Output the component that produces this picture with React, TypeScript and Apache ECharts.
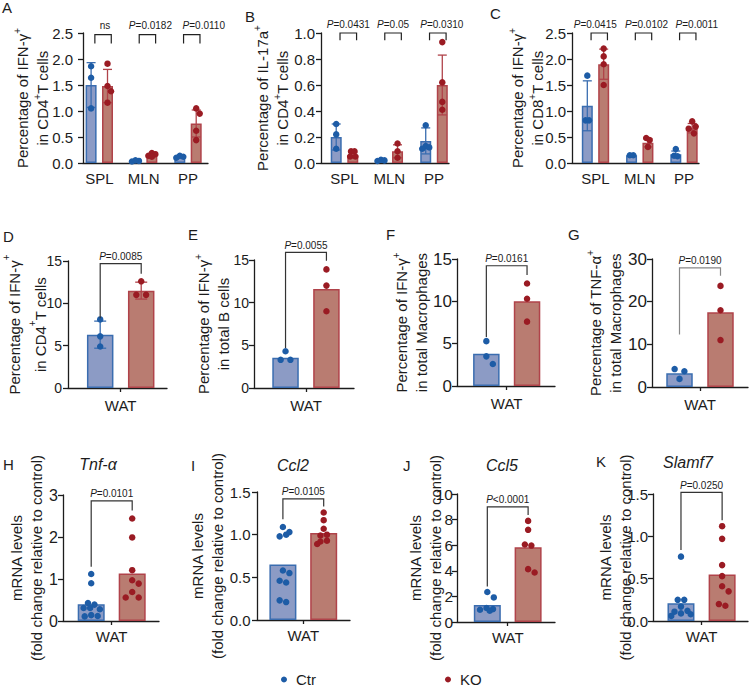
import React, { useEffect, useRef } from 'react';
import * as echarts from 'echarts';

const FONT = '"Liberation Sans", Arial, Helvetica, sans-serif';
const INK = '#1c1c1c';
const CTR_FILL = '#8c9bc5';
const CTR_LINE = '#3a6db0';
const CTR_DOT = '#1d5ca6';
const KO_FILL = '#b97c71';
const KO_LINE = '#b0434a';
const KO_DOT = '#9a1b23';

// ---------- Panel A : IFN-γ+ in CD4+ T cells ----------
const aCategories = ['SPL', 'MLN', 'PP'];
const aCtrMean = [1.5, 0.04, 0.12];
const aCtrSD = [0.43, 0.01, 0.02];
const aKoMean = [1.48, 0.15, 0.76];
const aKoSD = [0.32, 0.03, 0.26];
const aCtrDots = [[1.86, 1.64, 1.05], [0.03, 0.04, 0.05], [0.14, 0.12, 0.1]];
const aKoDots = [[1.91, 1.48, 1.38, 1.16], [0.19, 0.17, 0.14, 0.12], [1.05, 0.95, 0.62, 0.44]];
const aPLabels = ['ns', 'P=0.0182', 'P=0.0110'];
const aBracketTop = [2.47, 2.47, 2.47];
const aBracketFoot = [2.3, 2.3, 2.3];

// ---------- Panel B : IL-17a+ in CD4+ T cells ----------
const bCategories = ['SPL', 'MLN', 'PP'];
const bCtrMean = [0.2, 0.02, 0.17];
const bCtrSD = [0.1, 0.005, 0.1];
const bKoMean = [0.06, 0.09, 0.6];
const bKoSD = [0.02, 0.05, 0.23];
const bCtrDots = [[0.3, 0.22, 0.11], [0.025, 0.02, 0.015], [0.29, 0.13, 0.12, 0.11]];
const bKoDots = [[0.09, 0.09, 0.05, 0.05], [0.15, 0.09, 0.04], [0.93, 0.62, 0.47, 0.41]];
const bPLabels = ['P=0.0431', 'P=0.05', 'P=0.0310'];
const bBracketTop = [1.0, 1.0, 1.0];
const bBracketFoot = [0.945, 0.945, 0.945];

// ---------- Panel C : IFN-γ+ in CD8+ T cells ----------
const cCategories = ['SPL', 'MLN', 'PP'];
const cCtrMean = [1.1, 0.15, 0.17];
const cCtrSD = [0.48, 0.01, 0.06];
const cKoMean = [1.9, 0.39, 0.67];
const cKoSD = [0.29, 0.08, 0.09];
const cCtrDots = [[1.68, 0.82, 0.82], [0.15, 0.15], [0.27, 0.14, 0.13]];
const cKoDots = [[2.2, 2.05, 1.9, 1.5], [0.48, 0.44, 0.31], [0.8, 0.7, 0.66, 0.57]];
const cPLabels = ['P=0.0415', 'P=0.0102', 'P=0.0011'];
const cBracketTop = [2.5, 2.5, 2.5];
const cBracketFoot = [2.36, 2.36, 2.36];

// ---------- Row 2 : WAT ----------
const watCategories = ['WAT'];

const dCtrMean = [6.3];
const dCtrSD = [1.6];
const dKoMean = [11.5];
const dKoSD = [1.0];
const dCtrDots = [[8.1, 6.1, 4.9]];
const dKoDots = [[12.6, 11.0, 11.0]];
const dPLabels = ['P=0.0085'];
const dBracket = [14.7, 8.25, 13.5]; // top, left foot, right foot

const eCtrMean = [3.55];
const eKoMean = [11.6];
const eCtrDots = [[4.3, 3.3, 3.3]];
const eKoDots = [[13.9, 12.0, 9.0]];
const ePLabels = ['P=0.0055'];
const eBracket = [15.9, 4.7, 14.9];

const fCtrMean = [3.8];
const fKoMean = [10.0];
const fCtrDots = [[5.3, 3.5, 2.6]];
const fKoDots = [[12.1, 10.3, 7.6]];
const fPLabels = ['P=0.0161'];
const fBracket = [14.2, 5.8, 13.1];

const gCtrMean = [3.2];
const gKoMean = [17.5];
const gCtrDots = [[4.2, 3.7, 1.9]];
const gKoDots = [[23.7, 18.0, 11.0]];
const gPLabels = ['P=0.0190'];
const gBracket = [27.9, 12.3, 26.1];

// ---------- Row 3 : mRNA ----------
const hCtrMean = [0.4];
const hKoMean = [1.13];
const hCtrDots = [[1.12, 0.9, 0.43, 0.39, 0.31, 0.31, 0.28, 0.14, 0.12, 0.11]];
const hKoDots = [[2.44, 1.99, 1.21, 0.97, 0.89, 0.69, 0.56, 0.56]];
const hPLabels = ['P=0.0101'];
const hBracket = [2.86, 1.29, 2.63];

const iCtrMean = [0.65];
const iKoMean = [1.02];
const iCtrDots = [[1.09, 1.03, 1.0, 0.98, 0.58, 0.55, 0.46, 0.44, 0.23, 0.21]];
const iKoDots = [[1.26, 1.17, 1.07, 1.0, 0.99, 0.93, 0.92, 0.89]];
const iPLabels = ['P=0.0105'];
const iBracket = [1.42, 1.18, 1.33];

const jCtrMean = [1.32];
const jKoMean = [5.84];
const jCtrDots = [[2.34, 1.92, 1.09, 1.01, 0.96, 0.88]];
const jKoDots = [[7.9, 7.2, 6.05, 5.97, 4.13, 3.87]];
const jPLabels = ['P<0.0001'];
const jBracket = [9.0, 2.78, 8.36];

const kCtrMean = [0.21];
const kKoMean = [0.55];
const kCtrDots = [[0.76, 0.25, 0.25, 0.17, 0.12, 0.11, 0.09, 0.08, 0.06]];
const kKoDots = [[1.12, 0.97, 0.66, 0.53, 0.41, 0.35, 0.2, 0.18]];
const kPLabels = ['P=0.0250'];
const kBracket = [1.52, 0.84, 1.19];

const legendNames = ['Ctr', 'KO'];

type Panel = {
  letter: string;
  title?: string;
  cats: string[];
  ctrMean: number[];
  koMean: number[];
  ctrSD?: number[];
  koSD?: number[];
  ctrDots: number[][];
  koDots: number[][];
  pLabels: string[];
  brTop: number[];
  brLeft: number[];
  brRight: number[];
  yMax: number;
  yStep: number;
  decimals: number;
  yName: string;
};

type Layout = {
  left: number; top: number; width: number; height: number;
  xMin: number; xMax: number; barOff: number; barW: number; capW: number;
  brL: number; brR: number; nameGap: number; nameLH: number; textOff: number; textDx: number[];
  dot: number; minD: number; step: number; maxHalf: number;
  catFont: number; tickFont: number; tickMargin: number; labelMargin: number; catTick: boolean;
  letterX: number; letterY: number; titleX?: number; titleY?: number; brColor: string;
};

const nameCD4 = 'Percentage of IFN-γ{s|+}\nin CD4{s|+}T cells';
const nameMrna = 'mRNA levels\n(fold change relative to control)';

const row1 = {
  capW: 9, brL: -0.1, brR: 0.27, textOff: 9, dot: 6.5, minD: 5.85, step: 1.75, maxHalf: 3.5,
  catFont: 15, tickFont: 15, tickMargin: 6, labelMargin: 8, barOff: 0.185, barW: 11, catTick: false,
  brColor: '#222', nameLH: 20,
};
const row2 = {
  capW: 12, brL: -0.5, brR: 0.5, textOff: 7, textDx: [0], dot: 6.5, minD: 8.45, step: 3.25, maxHalf: 9.75,
  catFont: 15, tickFont: 14, tickMargin: 6, labelMargin: 10, barOff: 0.5, barW: 26.5, catTick: true,
  brColor: '#333', nameLH: 20,
};
const row3 = { ...row2, barW: 27, labelMargin: 8, minD: 6.5 };

const PANELS: [Panel, Layout][] = [
  [
    { letter: 'A', cats: aCategories, ctrMean: aCtrMean, koMean: aKoMean, ctrSD: aCtrSD, koSD: aKoSD, ctrDots: aCtrDots, koDots: aKoDots, pLabels: aPLabels, brTop: aBracketTop, brLeft: aBracketFoot, brRight: aBracketFoot, yMax: 2.5, yStep: 0.5, decimals: 1, yName: nameCD4 },
    { ...row1, left: 83, top: 33, width: 125, height: 130, xMin: -0.3675, xMax: 2.451, nameGap: 31, tickMargin: 10, textDx: [2, 3, 12], letterX: 2, letterY: 0 },
  ],
  [
    { letter: 'B', cats: bCategories, ctrMean: bCtrMean, koMean: bKoMean, ctrSD: bCtrSD, koSD: bKoSD, ctrDots: bCtrDots, koDots: bKoDots, pLabels: bPLabels, brTop: bBracketTop, brLeft: bBracketFoot, brRight: bBracketFoot, yMax: 1.0, yStep: 0.2, decimals: 1, yName: 'Percentage of IL-17a{s|+}\nin CD4{s|+}T cells' },
    { ...row1, left: 321, top: 33, width: 128, height: 130, xMin: -0.525, xMax: 2.335, nameGap: 29, textDx: [0, 0, 4], letterX: 245, letterY: 8.5 },
  ],
  [
    { letter: 'C', cats: cCategories, ctrMean: cCtrMean, koMean: cKoMean, ctrSD: cCtrSD, koSD: cKoSD, ctrDots: cCtrDots, koDots: cKoDots, pLabels: cPLabels, brTop: cBracketTop, brLeft: cBracketFoot, brRight: cBracketFoot, yMax: 2.5, yStep: 0.5, decimals: 1, yName: 'Percentage of IFN-γ{s|+}\nin CD8{s|+}T cells' },
    { ...row1, left: 572, top: 33, width: 127, height: 130, xMin: -0.531, xMax: 2.339, nameGap: 25, textDx: [-4, 3, 9], letterX: 490, letterY: 6 },
  ],
  [
    { letter: 'D', cats: watCategories, ctrMean: dCtrMean, koMean: dKoMean, ctrSD: dCtrSD, koSD: dKoSD, ctrDots: dCtrDots, koDots: dKoDots, pLabels: dPLabels, brTop: [dBracket[0]], brLeft: [dBracket[1]], brRight: [dBracket[2]], yMax: 15, yStep: 5, decimals: 0, yName: nameCD4 },
    { ...row2, left: 68, top: 261, width: 99, height: 127, xMin: -1.285, xMax: 1.129, nameGap: 15, nameLH: 26, letterX: 3, letterY: 228.5 },
  ],
  [
    { letter: 'E', cats: watCategories, ctrMean: eCtrMean, koMean: eKoMean, ctrDots: eCtrDots, koDots: eKoDots, pLabels: ePLabels, brTop: [eBracket[0]], brLeft: [eBracket[1]], brRight: [eBracket[2]], yMax: 15, yStep: 5, decimals: 0, yName: 'Percentage of IFN-γ{s|+}\nin total B cells' },
    { ...row2, left: 254, top: 260, width: 100, height: 128, xMin: -1.271, xMax: 1.174, nameGap: 21, tickMargin: 5, letterX: 188, letterY: 227 },
  ],
  [
    { letter: 'F', cats: watCategories, ctrMean: fCtrMean, koMean: fKoMean, ctrDots: fCtrDots, koDots: fKoDots, pLabels: fPLabels, brTop: [fBracket[0]], brLeft: [fBracket[1]], brRight: [fBracket[2]], yMax: 15, yStep: 5, decimals: 0, yName: 'Percentage of IFN-γ{s|+}\nin total Macrophages' },
    { ...row2, left: 457, top: 259, width: 98, height: 127, xMin: -1.221, xMax: 1.187, nameGap: 25.5, tickFont: 17, tickMargin: 5, letterX: 386, letterY: 227 },
  ],
  [
    { letter: 'G', cats: watCategories, ctrMean: gCtrMean, koMean: gKoMean, ctrDots: gCtrDots, koDots: gKoDots, pLabels: gPLabels, brTop: [gBracket[0]], brLeft: [gBracket[1]], brRight: [gBracket[2]], yMax: 30, yStep: 10, decimals: 0, yName: 'Percentage of TNF-α{s|+}\nin total Macrophages' },
    { ...row2, left: 652, top: 259, width: 96, height: 128, xMin: -1.171, xMax: 1.171, nameGap: 26.5, tickFont: 17, tickMargin: 5, letterX: 568, letterY: 227, brColor: '#888' },
  ],
  [
    { letter: 'H', title: 'Tnf-α', cats: watCategories, ctrMean: hCtrMean, koMean: hKoMean, ctrDots: hCtrDots, koDots: hKoDots, pLabels: hPLabels, brTop: [hBracket[0]], brLeft: [hBracket[1]], brRight: [hBracket[2]], yMax: 3, yStep: 1, decimals: 0, yName: nameMrna },
    { ...row3, left: 63, top: 495, width: 96, height: 126, xMin: -1.188, xMax: 1.154, nameGap: 16.5, tickFont: 16, tickMargin: 5, letterX: 3, letterY: 457, titleX: 98, titleY: 464 },
  ],
  [
    { letter: 'I', title: 'Ccl2', cats: watCategories, ctrMean: iCtrMean, koMean: iKoMean, ctrDots: iCtrDots, koDots: iKoDots, pLabels: iPLabels, brTop: [iBracket[0]], brLeft: [iBracket[1]], brRight: [iBracket[2]], yMax: 1.5, yStep: 0.5, decimals: 1, yName: nameMrna },
    { ...row3, left: 257, top: 492, width: 93, height: 128, xMin: -1.135, xMax: 1.145, nameGap: 30, tickFont: 15, tickMargin: 6.5, letterX: 191, letterY: 457.5, titleX: 293, titleY: 465 },
  ],
  [
    { letter: 'J', title: 'Ccl5', cats: watCategories, ctrMean: jCtrMean, koMean: jKoMean, ctrDots: jCtrDots, koDots: jKoDots, pLabels: jPLabels, brTop: [jBracket[0]], brLeft: [jBracket[1]], brRight: [jBracket[2]], yMax: 10, yStep: 2, decimals: 0, yName: nameMrna },
    { ...row3, left: 457, top: 494, width: 98, height: 128, xMin: -1.243, xMax: 1.159, nameGap: 12, tickFont: 15.5, tickMargin: 4, letterX: 403, letterY: 457.5, titleX: 502, titleY: 465 },
  ],
  [
    { letter: 'K', title: 'Slamf7', cats: watCategories, ctrMean: kCtrMean, koMean: kKoMean, ctrDots: kCtrDots, koDots: kKoDots, pLabels: kPLabels, brTop: [kBracket[0]], brLeft: [kBracket[1]], brRight: [kBracket[2]], yMax: 1.5, yStep: 0.5, decimals: 1, yName: nameMrna },
    { ...row3, left: 653, top: 494, width: 95, height: 127, xMin: -1.18, xMax: 1.129, nameGap: 18, tickFont: 15, tickMargin: 5, letterX: 596, letterY: 454, titleX: 688, titleY: 462 },
  ],
];

// deterministic beeswarm: horizontal pixel offsets for one group of dots
function swarm(vals: number[], pxY: number, L: Layout): number[] {
  const order = vals.map((_, i) => i).sort((a, b) => vals[b] - vals[a]);
  const cands = [0];
  for (let k = 1; k * L.step <= L.maxHalf + 1e-6; k++) cands.push(k * L.step, -k * L.step);
  const pos: { x: number; y: number; i: number }[] = [];
  for (const i of order) {
    const y = vals[i] * pxY;
    const dist = (c: number) => (pos.length ? Math.min(...pos.map((p) => Math.hypot(p.x - c, p.y - y))) : Infinity);
    let x = cands.find((c) => dist(c) >= L.minD);
    if (x === undefined) {
      let best = -1;
      x = 0;
      for (const c of cands) {
        const d = dist(c);
        if (d > best + 1e-9) { best = d; x = c; }
      }
    }
    pos.push({ x, y, i });
  }
  const sorted = [...pos].sort((a, b) => a.y - b.y);
  let start = 0;
  for (let j = 1; j <= sorted.length; j++) {
    if (j === sorted.length || sorted[j].y - sorted[j - 1].y > L.dot * 0.35) {
      const row = sorted.slice(start, j);
      if (row.length > 1) {
        const m = row.reduce((s, p) => s + p.x, 0) / row.length;
        row.forEach((p) => (p.x -= m));
      }
      start = j;
    }
  }
  const out = new Array(vals.length).fill(0);
  pos.forEach((p) => (out[p.i] = p.x));
  return out;
}

function richP(s: string) {
  return s.startsWith('P') ? `{i|P}${s.slice(1)}` : s;
}

function buildOption() {
  const grid: any[] = [];
  const xAxis: any[] = [];
  const yAxis: any[] = [];
  const series: any[] = [];
  const graphic: any[] = [];
  const axisLineStyle = { color: INK, width: 1.3 };

  PANELS.forEach(([p, L], k) => {
    const idx = p.cats.map((_, i) => i);
    grid.push({ left: L.left, top: L.top, width: L.width, height: L.height, containLabel: false, outerBoundsMode: 'none' });
    xAxis.push({
      type: 'value', gridIndex: k, min: L.xMin, max: L.xMax,
      axisLine: { show: true, onZero: false, lineStyle: axisLineStyle },
      axisTick: { show: L.catTick, customValues: idx, length: 4, lineStyle: axisLineStyle },
      axisLabel: {
        customValues: idx, formatter: (v: number) => p.cats[Math.round(v)] ?? '',
        fontSize: L.catFont, color: INK, fontFamily: FONT, margin: L.labelMargin,
      },
      splitLine: { show: false },
    });
    yAxis.push({
      type: 'value', gridIndex: k, min: 0, max: p.yMax, interval: p.yStep,
      axisLine: { show: true, onZero: false, lineStyle: axisLineStyle },
      axisTick: { show: true, length: 5, lineStyle: axisLineStyle },
      axisLabel: {
        fontSize: L.tickFont, color: INK, fontFamily: FONT, margin: L.tickMargin,
        formatter: (v: number) => v.toFixed(p.decimals),
      },
      splitLine: { show: false },
      name: p.yName, nameLocation: 'middle', nameGap: L.nameGap, nameRotate: 90,
      nameMoveOverlap: false,
      nameTextStyle: {
        fontSize: 15, color: INK, fontFamily: FONT, lineHeight: L.nameLH,
        rich: { s: { fontSize: 10, lineHeight: 12, verticalAlign: 'top', fontFamily: FONT, color: INK } },
      },
    });

    // bars (group means)
    series.push({
      type: 'bar', xAxisIndex: k, yAxisIndex: k, barWidth: L.barW, z: 2, silent: true,
      data: idx.flatMap((i) => [
        { value: [i - L.barOff, p.ctrMean[i]], itemStyle: { color: CTR_FILL, borderColor: CTR_LINE, borderWidth: 1.5 } },
        { value: [i + L.barOff, p.koMean[i]], itemStyle: { color: KO_FILL, borderColor: KO_LINE, borderWidth: 1.5 } },
      ]),
    });

    // error bars (mean ± SD)
    if (p.ctrSD && p.koSD) {
      const ctrSD = p.ctrSD;
      const koSD = p.koSD;
      series.push({
        type: 'custom', xAxisIndex: k, yAxisIndex: k, z: 3, silent: true,
        data: idx.flatMap((i) => [
          [i - L.barOff, p.ctrMean[i] - ctrSD[i], p.ctrMean[i] + ctrSD[i], 0],
          [i + L.barOff, p.koMean[i] - koSD[i], p.koMean[i] + koSD[i], 1],
        ]),
        renderItem: (_params: any, api: any) => {
          const x = api.value(0);
          const a = api.coord([x, api.value(1)]);
          const b = api.coord([x, api.value(2)]);
          const c = api.value(3) ? KO_LINE : CTR_LINE;
          const hw = L.capW / 2;
          const st = { stroke: c, lineWidth: 1.3 };
          return {
            type: 'group',
            children: [
              { type: 'line', shape: { x1: a[0], y1: a[1], x2: b[0], y2: b[1] }, style: st },
              { type: 'line', shape: { x1: a[0] - hw, y1: a[1], x2: a[0] + hw, y2: a[1] }, style: st },
              { type: 'line', shape: { x1: b[0] - hw, y1: b[1], x2: b[0] + hw, y2: b[1] }, style: st },
            ],
          };
        },
      });
    }

    // individual dots
    const pxY = L.height / p.yMax;
    const pxX = L.width / (L.xMax - L.xMin);
    const dots = (groups: number[][], sign: number) =>
      groups.flatMap((vals, i) => {
        const offs = swarm(vals, pxY, L);
        return vals.map((v, j) => [i + sign * L.barOff + offs[j] / pxX, v]);
      });
    series.push({
      type: 'scatter', name: legendNames[0], xAxisIndex: k, yAxisIndex: k, symbol: 'circle', symbolSize: L.dot,
      itemStyle: { color: CTR_DOT, opacity: 1 }, z: 4, silent: true, data: dots(p.ctrDots, -1),
    });
    series.push({
      type: 'scatter', name: legendNames[1], xAxisIndex: k, yAxisIndex: k, symbol: 'circle', symbolSize: L.dot,
      itemStyle: { color: KO_DOT, opacity: 1 }, z: 4, silent: true, data: dots(p.koDots, 1),
    });

    // significance brackets + P values
    series.push({
      type: 'custom', xAxisIndex: k, yAxisIndex: k, z: 5, silent: true,
      data: idx.map((i) => [i + L.brL, i + L.brR, p.brTop[i], p.brLeft[i], p.brRight[i]]),
      renderItem: (params: any, api: any) => {
        const x1 = api.value(0);
        const x2 = api.value(1);
        const yt = api.value(2);
        const pL = api.coord([x1, api.value(3)]);
        const pTL = api.coord([x1, yt]);
        const pTR = api.coord([x2, yt]);
        const pR = api.coord([x2, api.value(4)]);
        const dx = L.textDx[params.dataIndex] ?? 0;
        return {
          type: 'group',
          children: [
            { type: 'polyline', shape: { points: [pL, pTL, pTR, pR] }, style: { stroke: L.brColor, lineWidth: 1.2, fill: null } },
            {
              type: 'text', x: (pTL[0] + pTR[0]) / 2 + dx, y: pTL[1] - L.textOff,
              style: {
                text: richP(p.pLabels[params.dataIndex]), fill: INK, fontSize: 10, fontFamily: FONT,
                align: 'center', verticalAlign: 'middle',
                rich: { i: { fontStyle: 'italic', fontSize: 10, fontFamily: FONT, fill: INK } },
              },
            },
          ],
        };
      },
    });

    graphic.push({
      type: 'text', x: L.letterX, y: L.letterY,
      style: { text: p.letter, fontSize: 15, fontFamily: FONT, fill: INK, align: 'left', verticalAlign: 'top' },
    });
    if (p.title && L.titleX != null) {
      graphic.push({
        type: 'text', x: L.titleX, y: L.titleY,
        style: { text: p.title, fontSize: 16, fontStyle: 'italic', fontFamily: FONT, fill: INK, align: 'center', verticalAlign: 'middle' },
      });
    }
  });

  return {
    animation: false,
    backgroundColor: '#fff',
    grid, xAxis, yAxis, series, graphic,
    legend: {
      data: legendNames, left: 276, top: 667, itemWidth: 14, itemHeight: 6, itemGap: 129, icon: 'circle',
      selectedMode: false, textStyle: { fontSize: 15, fontFamily: FONT, color: INK },
    },
  };
}

export default function App() {
  const ref = useRef<HTMLDivElement>(null);
  useEffect(() => {
    if (!ref.current) return;
    const chart = echarts.init(ref.current, undefined, { renderer: 'svg' });
    chart.setOption(buildOption() as any);
    return () => chart.dispose();
  }, []);
  return <div ref={ref} style={{ position: 'fixed', left: 0, top: 0, width: 750, height: 688, background: '#fff' }} />;
}
